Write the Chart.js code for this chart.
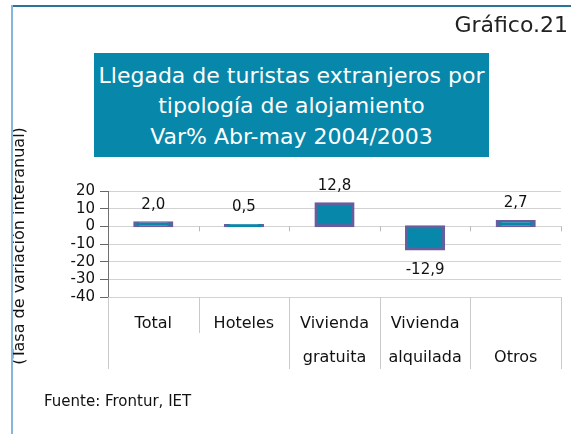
<!DOCTYPE html>
<html>
<head>
<meta charset="utf-8">
<script src="https://cdn.jsdelivr.net/npm/chart.js@4"></script>
<style>
  html, body { margin: 0; padding: 0; background: #fff; }
  #wrap { position: relative; width: 571px; height: 434px; overflow: hidden; background: #fff; font-family: "DejaVu Sans", sans-serif; }
  #c { position: absolute; left: 0; top: 0; }
  .frameTop { position: absolute; left: 11px; top: 5px; width: 560px; height: 2px; background: #2b7399; }
  .frameLeft { position: absolute; left: 11px; top: 5px; width: 2px; height: 429px; background: #86b6da; }
  #titlebox { position: absolute; left: 94px; top: 53px; width: 395px; height: 104px; background: #0787aa; color: #fff; font-size: 22px; }
  .tl { position: absolute; left: 0; width: 100%; text-align: center; line-height: 1; white-space: nowrap; }
  #graf { position: absolute; right: 3px; top: 14px; font-size: 22px; line-height: 1; color: #222; }
  #fuente { position: absolute; left: 44px; top: 394px; font-size: 15px; line-height: 1; color: #111; }
</style>
</head>
<body>
<div id="wrap">
  <canvas id="c" width="571" height="434"></canvas>
  <div class="frameTop"></div>
  <div class="frameLeft"></div>
  <div id="graf">Gráfico.21</div>
  <div id="titlebox">
    <div class="tl" style="top:12px">Llegada de turistas extranjeros por</div>
    <div class="tl" style="top:42px">tipología de alojamiento</div>
    <div class="tl" style="top:73px">Var% Abr-may 2004/2003</div>
  </div>
  <div id="fuente">Fuente: Frontur, IET</div>
</div>
<script>
// ---- data ----
const categories = [["Total"], ["Hoteles"], ["Vivienda", "gratuita"], ["Vivienda", "alquilada"], ["", "Otros"]];
const values = [2.0, 0.5, 12.8, -12.9, 2.7];
const yTickValues = [20, 10, 0, -10, -20, -30, -40];
const yAxisTitle = "(Tasa de variación interanual)";

const FONT = "DejaVu Sans";

const decor = {
  id: 'decor',
  afterDatasetsDraw(chart) {
    const ctx = chart.ctx;
    const xs = chart.scales.x, ys = chart.scales.y;
    const n = categories.length;
    const half = (xs.getPixelForValue(1) - xs.getPixelForValue(0)) / 2;
    const y0 = ys.getPixelForValue(0);
    ctx.save();
    // small ticks below zero line at category boundaries
    ctx.strokeStyle = '#b8b8b8';
    ctx.lineWidth = 1;
    for (let j = 1; j <= n; j++) {
      const x = Math.round(xs.getPixelForValue(j - 1) + half) + 0.5;
      ctx.beginPath(); ctx.moveTo(x, y0); ctx.lineTo(x, y0 + 5); ctx.stroke();
    }
    // separators below plot area
    ctx.strokeStyle = '#cacaca';
    const yb = ys.bottom;
    for (let j = 0; j <= n; j++) {
      const x = Math.round(xs.getPixelForValue(j) - half) + 0.5;
      let len = 72;
      if (j > 0 && j < n && categories[j - 1].length === 1 && categories[j].length === 1) len = 36;
      ctx.beginPath(); ctx.moveTo(x, yb); ctx.lineTo(x, yb + len); ctx.stroke();
    }
    // value labels
    const meta = chart.getDatasetMeta(0);
    ctx.fillStyle = '#111';
    ctx.font = '15px "' + FONT + '"';
    ctx.textAlign = 'center';
    ctx.textBaseline = 'middle';
    meta.data.forEach((el, i) => {
      const v = values[i];
      const txt = v.toFixed(1).replace('.', ',');
      const y = v >= 0 ? el.y - 18 : el.y + 21;
      ctx.fillText(txt, el.x, y);
    });
    // y-axis title
    ctx.translate(20, (ys.top + ys.bottom) / 2 + 2);
    ctx.rotate(-Math.PI / 2);
    ctx.font = '16px "' + FONT + '"';
    ctx.fillText(yAxisTitle, 0, 0);
    ctx.restore();
  }
};

new Chart(document.getElementById('c').getContext('2d'), {
  type: 'bar',
  data: {
    labels: categories,
    datasets: [{
      data: values,
      backgroundColor: '#0788aa',
      borderColor: '#6a5d9e',
      borderWidth: 3,
      borderSkipped: false,
      inflateAmount: 1.5,
      barPercentage: 0.41,
      categoryPercentage: 1
    }]
  },
  options: {
    responsive: false,
    animation: false,
    devicePixelRatio: 1,
    layout: { padding: { left: 0, right: 10, top: 191, bottom: 62 } },
    plugins: { legend: { display: false }, tooltip: { enabled: false }, title: { display: false } },
    scales: {
      x: {
        grid: { display: false, drawTicks: false },
        border: { display: false },
        ticks: { font: { family: FONT, size: 16, lineHeight: 2.125 }, color: '#111', padding: 10, maxRotation: 0, autoSkip: false },
        afterFit: s => { s.height = 75; }
      },
      y: {
        min: -40, max: 20,
        grid: { color: '#d2d2d2', tickColor: '#666', tickLength: 8, drawTicks: true },
        border: { display: true, color: '#707070', width: 1 },
        ticks: { font: { family: FONT, size: 15 }, color: '#111', padding: 5, autoSkip: false },
        afterBuildTicks: s => { s.ticks = yTickValues.map(v => ({ value: v })); },
        afterFit: s => { s.width = 108; }
      }
    }
  },
  plugins: [decor]
});
</script>
</body>
</html>
